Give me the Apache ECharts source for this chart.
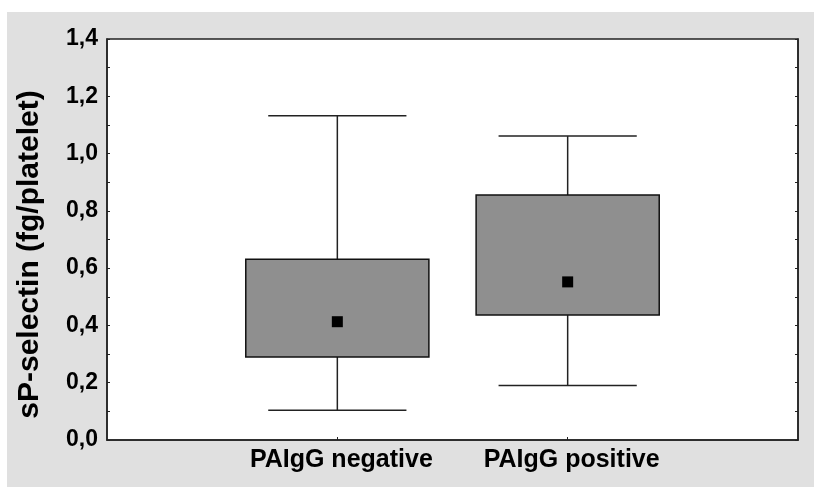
<!DOCTYPE html>
<html>
<head>
<meta charset="utf-8">
<script src="https://cdn.jsdelivr.net/npm/echarts@6/dist/echarts.min.js"></script>
<style>
  html, body { margin: 0; padding: 0; background: #ffffff; }
  #main { position: absolute; left: 7px; top: 12px; width: 807px; height: 475px; }
</style>
</head>
<body>
<div id="main"></div>
<script>
// groups on the x axis (empty slots keep the outer gaps)
var categories = ['', 'PAIgG negative', 'PAIgG positive', ''];
// whisker low, box low, median, box high, whisker high
var negativeBox = [0.104, 0.290, 0.413, 0.631, 1.132];
var positiveBox = [0.190, 0.436, 0.552, 0.855, 1.061];
var yTicks = [0, 0.2, 0.4, 0.6, 0.8, 1.0, 1.2, 1.4];

var FONT = 'Arial, "Liberation Sans", sans-serif';
var myChart = echarts.init(document.getElementById('main'));

function renderBox(params, api) {
    var x = api.value(0);
    var lo = api.coord([x, api.value(1)]);
    var q1 = api.coord([x, api.value(2)]);
    var md = api.coord([x, api.value(3)]);
    var q3 = api.coord([x, api.value(4)]);
    var hi = api.coord([x, api.value(5)]);
    var band = api.size([1, 0])[0];
    var boxW = band * 0.795, capW = band * 0.6, mk = 11;
    var cx = lo[0];
    var lineStyle = { stroke: '#222', lineWidth: 1.5 };
    return {
        type: 'group',
        children: [
            { type: 'line', shape: { x1: cx, y1: hi[1], x2: cx, y2: q3[1] }, style: lineStyle },
            { type: 'line', shape: { x1: cx, y1: q1[1], x2: cx, y2: lo[1] }, style: lineStyle },
            { type: 'line', shape: { x1: cx - capW / 2, y1: hi[1], x2: cx + capW / 2, y2: hi[1] }, style: lineStyle },
            { type: 'line', shape: { x1: cx - capW / 2, y1: lo[1], x2: cx + capW / 2, y2: lo[1] }, style: lineStyle },
            { type: 'rect', shape: { x: cx - boxW / 2, y: q3[1], width: boxW, height: q1[1] - q3[1] },
              style: { fill: '#8f8f8f', stroke: '#111', lineWidth: 1.5 } },
            { type: 'rect', shape: { x: cx - mk / 2, y: md[1] - mk / 2, width: mk, height: mk },
              style: { fill: '#000' } }
        ]
    };
}

var yCommon = {
    type: 'value',
    min: yTicks[0],
    max: yTicks[yTicks.length - 1],
    interval: 0.2,
    axisLine: { show: true, lineStyle: { color: '#222', width: 1.5 } },
    axisTick: { show: true, inside: true, length: 3, lineStyle: { color: '#222' } },
    minorTick: { show: true, splitNumber: 2, length: 3, lineStyle: { color: '#222' } },
    splitLine: { show: false }
};

myChart.setOption({
    backgroundColor: '#e0e0e0',
    animation: false,
    grid: {
        left: 100, right: 16, top: 27, bottom: 47,
        show: true, backgroundColor: '#ffffff', borderColor: '#222', borderWidth: 1.5
    },
    xAxis: {
        type: 'category',
        data: categories,
        boundaryGap: false,
        axisLine: { show: true, lineStyle: { color: '#222', width: 1.5 } },
        axisTick: {
            show: true, inside: true, length: 3,
            interval: function (i, v) { return v !== ''; },
            lineStyle: { color: '#222' }
        },
        axisLabel: {
            interval: 0, margin: 8,
            color: '#000', fontFamily: FONT, fontWeight: 'bold', fontSize: 25,
            padding: [0, 0, 0, 8]
        },
        splitLine: { show: false }
    },
    yAxis: [
        Object.assign({}, yCommon, {
            position: 'left',
            name: 'sP-selectin (fg/platelet)',
            nameLocation: 'middle',
            nameGap: 62,
            nameTextStyle: {
                color: '#000', fontFamily: FONT, fontWeight: 'bold', fontSize: 30,
                padding: [0, 30, 0, 0]
            },
            axisLabel: {
                margin: 9, color: '#000', fontFamily: FONT, fontWeight: 'bold', fontSize: 23,
                formatter: function (v) { return v.toFixed(1).replace('.', ','); }
            }
        }),
        Object.assign({}, yCommon, {
            position: 'right',
            axisLabel: { show: false }
        })
    ],
    series: [{
        type: 'custom',
        renderItem: renderBox,
        encode: { x: 0, y: [1, 2, 3, 4, 5] },
        data: [
            [1].concat(negativeBox),
            [2].concat(positiveBox)
        ]
    }]
});
</script>
</body>
</html>
